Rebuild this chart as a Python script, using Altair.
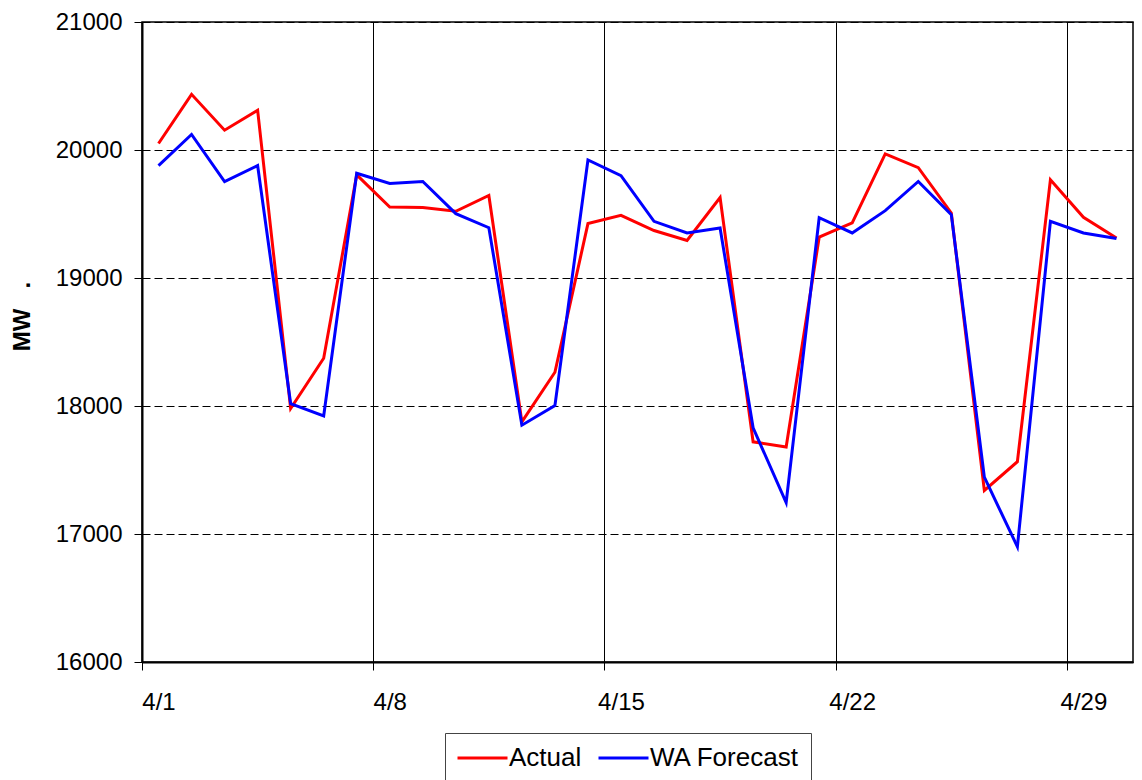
import altair as alt
import pandas as pd

# Day of April (1..30)
days = list(range(1, 31))

actual = [20051, 20435, 20155, 20311, 17980, 18373, 19806, 19554, 19550, 19521,
          19645, 17876, 18264, 19425, 19490, 19371, 19293, 19629, 17720, 17679,
          19319, 19430, 19969, 19862, 19508, 17340, 17565, 19767, 19474, 19313]

forecast = [19878, 20121, 19754, 19878, 18019, 17922, 19818, 19738, 19754, 19503,
            19393, 17850, 18003, 19922, 19800, 19443, 19352, 19391, 17830, 17245,
            19471, 19352, 19526, 19754, 19495, 17444, 16900, 19443, 19352, 19308]

series_names = ["Actual", "WA Forecast"]
series_colors = ["#FF0000", "#0000FF"]

# category boundaries where week ticks / gridlines sit (left edge of 4/1, 4/8, ...)
week_bounds = [0.5, 7.5, 14.5, 21.5, 28.5]
y_ticks = [16000, 17000, 18000, 19000, 20000, 21000]

df = pd.DataFrame({
    "day": days + days,
    "value": actual + forecast,
    "series": [series_names[0]] * len(days) + [series_names[1]] * len(days),
})

FONT = "Liberation Sans"
PLOT_W = 991
PLOT_H = 640

chart = alt.Chart(df).mark_line(strokeWidth=3).encode(
    x=alt.X(
        "day:Q",
        title=None,
        scale=alt.Scale(domain=[0.5, 30.5], nice=False, zero=False),
        axis=alt.Axis(
            values=week_bounds,
            labelExpr="'4/' + (datum.value + 0.5)",
            labelOffset=PLOT_W / 30 / 2,
            labelFlush=False,
            labelOverlap=False,
            labelFontSize=24,
            labelColor="black",
            labelPadding=20,
            grid=True,
            gridColor="black",
            gridWidth=1,
            tickSize=8,
            tickColor="black",
            tickWidth=1,
            domainColor="black",
            domainWidth=2,
        ),
    ),
    y=alt.Y(
        "value:Q",
        title="MW\u00a0\u00a0\u00a0.",
        scale=alt.Scale(domain=[16000, 21000], nice=False, zero=False),
        axis=alt.Axis(
            values=y_ticks,
            format="d",
            labelFontSize=24,
            labelColor="black",
            labelPadding=12,
            grid=True,
            gridColor="black",
            gridWidth=1,
            gridDash=[8, 4],
            tickSize=8,
            tickColor="black",
            domainColor="black",
            domainWidth=2,
            titleFontSize=24,
            titleFontWeight="bold",
            titleColor="black",
            titleAngle=270,
            titleAlign="center",
            titleBaseline="middle",
            titleX=-120,
            titleY=294,
        ),
    ),
    color=alt.Color(
        "series:N",
        title=None,
        scale=alt.Scale(domain=series_names, range=series_colors),
        legend=alt.Legend(
            orient="none",
            legendX=303,
            legendY=711,
            direction="horizontal",
            symbolType="M-1,0H3",
            symbolSize=625,
            symbolStrokeWidth=3,
            labelFontSize=26,
            labelColor="black",
            labelOffset=25,
            columnPadding=10,
            padding=11,
            strokeColor="#444444",
            fillColor="white",
        ),
    ),
    order=alt.Order("day:Q"),
).properties(
    width=PLOT_W,
    height=PLOT_H,
    autosize=alt.AutoSizeParams(type="none"),
    padding={"left": 134, "top": 14, "right": 1, "bottom": 140},
).configure(
    font=FONT,
).configure_view(
    stroke="black",
    strokeWidth=1.5,
)

chart.save("out.html", embed_options={"renderer": "svg", "actions": False})
